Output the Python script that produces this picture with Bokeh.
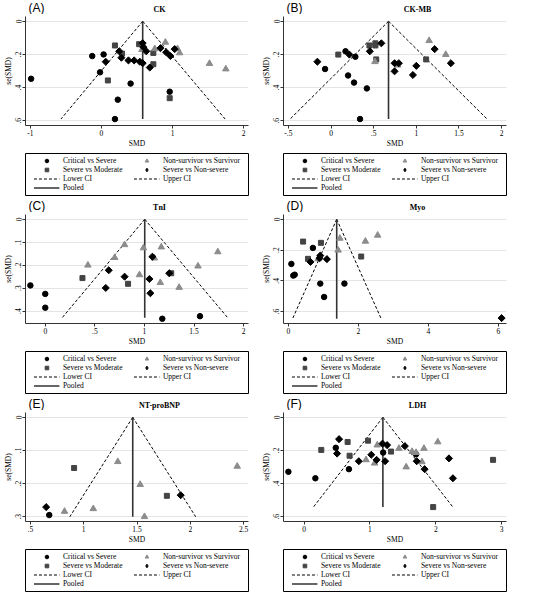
import math
from bokeh.plotting import figure
from bokeh.models import (Range1d, FixedTicker, CustomJSTickFormatter, Label,
                          Legend, LegendItem)
from bokeh.layouts import column, row
from bokeh.embed import file_html
from bokeh.resources import INLINE

# ---------------- data ----------------
# Panel A: CK
CK_crit_smd = [-0.99, -0.13, -0.02, 0.41, 0.23, 0.19, 0.96, 0.03]
CK_crit_se = [0.347, 0.210, 0.308, 0.376, 0.473, 0.590, 0.425, 0.200]
CK_mod_smd = [0.09, 0.19, 0.29, 0.53, 0.73, 0.73, 0.96]
CK_mod_se = [0.357, 0.146, 0.195, 0.138, 0.191, 0.259, 0.464]
CK_surv_smd = [0.57, 0.75, 0.90, 1.07, 1.10, 1.52, 1.75]
CK_surv_se = [0.171, 0.166, 0.127, 0.166, 0.191, 0.255, 0.288]
CK_nonsev_smd = [0.06, 0.25, 0.28, 0.38, 0.46, 0.54, 0.58, 0.58, 0.59, 0.63,
                 0.68, 0.83, 0.91, 0.97, 1.03]
CK_nonsev_se = [0.244, 0.181, 0.220, 0.236, 0.236, 0.244, 0.253, 0.132, 0.156,
                0.181, 0.279, 0.162, 0.187, 0.210, 0.168]
CK_pooled, CK_ci_se, CK_lower, CK_upper = 0.58, 0.59, -0.57, 1.74
CK_xticks = [-1, 0, 1, 2]
CK_yticks = [0, 0.2, 0.4, 0.6]

# Panel B: CK-MB
CKMB_crit_smd = [-0.07, 0.17, 0.285, 0.20, 0.27, 0.42, 0.34]
CKMB_crit_se = [0.288, 0.181, 0.214, 0.327, 0.370, 0.405, 0.590]
CKMB_mod_smd = [0.085, 0.45, 0.52, 0.52, 0.53, 1.115]
CKMB_mod_se = [0.201, 0.146, 0.146, 0.133, 0.230, 0.230]
CKMB_surv_smd = [0.515, 0.78, 1.15, 1.345]
CKMB_surv_se = [0.244, 0.265, 0.117, 0.201]
CKMB_nonsev_smd = [-0.16, 0.215, 0.455, 0.59, 0.745, 0.795, 0.745, 1.0, 0.96,
                   1.215, 1.405]
CKMB_nonsev_se = [0.244, 0.201, 0.181, 0.133, 0.253, 0.253, 0.302, 0.269,
                  0.324, 0.168, 0.253]
CKMB_pooled, CKMB_ci_se, CKMB_lower, CKMB_upper = 0.674, 0.59, -0.48, 1.83
CKMB_xticks = [-0.5, 0, 0.5, 1, 1.5, 2]
CKMB_yticks = [0, 0.2, 0.4, 0.6]

# Panel C: TnI
TNI_crit_smd = [-0.15, 0.0, 0.0, 1.18, 1.56]
TNI_crit_se = [0.288, 0.325, 0.385, 0.433, 0.422]
TNI_mod_smd = [0.375, 0.835, 1.27]
TNI_mod_se = [0.256, 0.281, 0.235]
TNI_surv_smd = [0.43, 0.70, 0.80, 0.99, 0.95, 1.10, 1.17, 1.16, 1.35, 1.54, 1.74]
TNI_surv_se = [0.200, 0.167, 0.111, 0.125, 0.242, 0.169, 0.121, 0.276, 0.297,
               0.204, 0.142]
TNI_nonsev_smd = [0.64, 0.61, 0.80, 1.08, 1.05, 1.06, 1.25]
TNI_nonsev_se = [0.222, 0.299, 0.250, 0.163, 0.260, 0.322, 0.235]
TNI_pooled, TNI_ci_se, TNI_lower, TNI_upper = 1.003, 0.429, 0.17, 1.84
TNI_xticks = [0, 0.5, 1, 1.5, 2]
TNI_yticks = [0, 0.1, 0.2, 0.3, 0.4]

# Panel D: Myo
MYO_crit_smd = [0.085, 0.14, 0.18, 0.70, 0.91, 1.02, 1.60]
MYO_crit_se = [0.290, 0.366, 0.360, 0.186, 0.418, 0.505, 0.418]
MYO_mod_smd = [0.42, 0.56, 0.93, 2.08]
MYO_mod_se = [0.145, 0.257, 0.153, 0.242]
MYO_surv_smd = [0.85, 1.47, 1.42, 2.20, 2.55]
MYO_surv_se = [0.257, 0.124, 0.201, 0.143, 0.104]
MYO_nonsev_smd = [0.63, 0.91, 0.89, 1.10, 6.09]
MYO_nonsev_se = [0.277, 0.236, 0.253, 0.259, 0.642]
MYO_pooled, MYO_ci_se, MYO_lower, MYO_upper = 1.38, 0.646, 0.12, 2.65
MYO_xticks = [0, 2, 4, 6]
MYO_yticks = [0, 0.2, 0.4, 0.6]

# Panel E: NT-proBNP
BNP_crit_smd = [0.677]
BNP_crit_se = [0.295]
BNP_mod_smd = [0.91, 1.78]
BNP_mod_se = [0.153, 0.237]
BNP_surv_smd = [0.82, 1.09, 1.32, 1.53, 1.57, 2.44]
BNP_surv_se = [0.284, 0.276, 0.134, 0.203, 0.300, 0.148]
BNP_nonsev_smd = [0.648, 1.91]
BNP_nonsev_se = [0.271, 0.235]
BNP_pooled, BNP_ci_se, BNP_lower, BNP_upper = 1.46, 0.30, 0.87, 2.05
BNP_xticks = [0.5, 1, 1.5, 2, 2.5]
BNP_yticks = [0, 0.1, 0.2, 0.3]

# Panel F: LDH
LDH_crit_smd = [-0.24, 0.17, 0.48, 0.68, 1.20, 1.70]
LDH_crit_se = [0.329, 0.368, 0.184, 0.313, 0.213, 0.223]
LDH_mod_smd = [0.26, 0.66, 0.69, 0.97, 1.32, 1.96, 2.87]
LDH_mod_se = [0.197, 0.149, 0.232, 0.141, 0.207, 0.542, 0.257]
LDH_surv_smd = [0.94, 1.07, 1.11, 1.44, 1.55, 1.64, 1.70, 1.82, 1.79, 2.03]
LDH_surv_se = [0.257, 0.277, 0.168, 0.188, 0.300, 0.207, 0.213, 0.188, 0.269,
               0.149]
LDH_nonsev_smd = [0.53, 0.50, 0.83, 1.02, 1.10, 1.19, 1.23, 1.26, 1.53, 1.71,
                  1.83, 2.20, 2.26]
LDH_nonsev_se = [0.132, 0.219, 0.265, 0.226, 0.257, 0.159, 0.265, 0.168, 0.174,
                 0.265, 0.313, 0.248, 0.368]
LDH_pooled, LDH_ci_se, LDH_lower, LDH_upper = 1.196, 0.542, 0.14, 2.26
LDH_xticks = [0, 1, 2, 3]
LDH_yticks = [0, 0.2, 0.4, 0.6]

LEGEND_LABELS = ["Critical vs Severe", "Non-survivor vs Survivor",
                 "Severe vs Moderate", "Severe vs Non-severe",
                 "Lower CI", "Upper CI", "Pooled"]

# ---------------- styling / layout ----------------
SERIF = "Liberation Serif"
SANS = "Liberation Sans"
PW = 258
BL, BR = 22, 8
FW = PW - BL - BR
HEAD_H = 14
MAIN_T, MAIN_B = 2, 20
FH = 114
MAIN_H = MAIN_T + FH + MAIN_B
LEG_FIG_H = 198 - HEAD_H - MAIN_H
LEG_L, LEG_R, LEG_T, LEG_B = 24, 10, 3, 3

FMT = CustomJSTickFormatter(code="""
const v = Math.round(tick * 1000) / 1000;
let s = String(v);
if (s.startsWith("0.")) { s = s.slice(1); }
else if (s.startsWith("-0.")) { s = "-" + s.slice(2); }
return s;
""")

STYLE = {
    "circle": dict(marker="circle", size=5.5, color="black"),
    "square": dict(marker="square", size=5, color="#444444"),
    "triangle": dict(marker="triangle", size=6.5, color="#8c8c8c"),
    "diamond": dict(marker="square", angle=math.pi / 4, size=5, color="black"),
}
LEGEND_STYLE = dict(STYLE, diamond=dict(marker="diamond", size=7, color="black"))


def blank_fig(height, left=0, right=0, top=0, bottom=0):
    f = figure(width=PW, height=height, x_range=Range1d(0, 1),
               y_range=Range1d(0, 1), x_axis_type=None, y_axis_type=None,
               output_backend="svg", toolbar_location=None,
               min_border=0, min_border_left=left, min_border_right=right,
               min_border_top=top, min_border_bottom=bottom)
    f.title = None
    f.outline_line_color = None
    f.background_fill_color = "white"
    f.border_fill_color = "white"
    return f


def draw_series(p, styles, crit, mod, surv, nonsev, pooled, ci_se, lower, upper):
    r_lo = p.line([pooled, lower], [0, ci_se], line_color="black",
                  line_width=1, line_dash="3 2")
    r_up = p.line([pooled, upper], [0, ci_se], line_color="black",
                  line_width=1, line_dash="3 2")
    r_po = p.line([pooled, pooled], [0, ci_se], line_color="#333333",
                  line_width=1.6)
    r_c = p.scatter(crit[0], crit[1], **styles["circle"])
    r_s = p.scatter(mod[0], mod[1], **styles["square"])
    r_t = p.scatter(surv[0], surv[1], **styles["triangle"])
    r_d = p.scatter(nonsev[0], nonsev[1], **styles["diamond"])
    return [r_c, r_t, r_s, r_d, r_lo, r_up, r_po]


def make_panel(tag, title, crit, mod, surv, nonsev, pooled, ci_se, lower,
               upper, xticks, yticks):
    # header with panel tag and title
    head = blank_fig(HEAD_H)
    head.add_layout(Label(x=3, y=HEAD_H - 7.5, x_units="screen",
                          y_units="screen", text=tag, text_font=SANS,
                          text_font_size="12px", text_align="left",
                          text_baseline="middle", text_color="black"))
    head.add_layout(Label(x=BL + FW / 2 - 2, y=HEAD_H - 9, x_units="screen",
                          y_units="screen", text=title, text_font=SERIF,
                          text_font_size="8px", text_font_style="bold",
                          text_align="center", text_baseline="middle",
                          text_color="black"))

    # main funnel plot
    xs = crit[0] + mod[0] + surv[0] + nonsev[0] + [lower, upper]
    ys = crit[1] + mod[1] + surv[1] + nonsev[1] + [ci_se]
    xlo, xhi = min(xticks[0], min(xs)), max(xticks[-1], max(xs))
    ylo, yhi = min(yticks[0], min(ys)), max(yticks[-1], max(ys))
    xpad = (xhi - xlo) * 5.0 / (FW - 10)
    ypad = (yhi - ylo) * 5.0 / (FH - 10)
    p = figure(width=PW, height=MAIN_H,
               x_range=Range1d(xlo - xpad, xhi + xpad),
               y_range=Range1d(yhi + ypad, ylo - ypad),
               output_backend="svg", toolbar_location=None,
               min_border_left=BL, min_border_right=BR,
               min_border_top=MAIN_T, min_border_bottom=MAIN_B)
    p.title = None
    p.outline_line_color = None
    p.background_fill_color = "white"
    p.border_fill_color = "white"

    xt = FixedTicker(ticks=xticks)
    yt = FixedTicker(ticks=yticks)
    p.xaxis.ticker = xt
    p.yaxis.ticker = yt
    p.ygrid.ticker = yt
    p.xgrid.visible = False
    p.ygrid.grid_line_color = "#e4e4e4"
    p.ygrid.grid_line_width = 1
    for ax in (p.xaxis[0], p.yaxis[0]):
        ax.formatter = FMT
        ax.axis_line_color = "#333333"
        ax.major_tick_line_color = "#333333"
        ax.minor_tick_line_color = None
        ax.major_tick_out = 3
        ax.major_tick_in = 0
        ax.major_label_text_font = SERIF
        ax.major_label_text_font_size = "7.5px"
        ax.major_label_text_color = "black"
        ax.axis_label_text_font = SERIF
        ax.axis_label_text_font_size = "7.5px"
        ax.axis_label_text_font_style = "normal"
        ax.axis_label_text_color = "black"
        ax.major_label_standoff = 1
        ax.axis_label_standoff = 0
    p.xaxis.axis_label = "SMD"
    p.yaxis.axis_label = "se(SMD)"
    p.yaxis.major_label_orientation = "vertical"
    draw_series(p, STYLE, crit, mod, surv, nonsev, pooled, ci_se, lower, upper)

    # legend strip: the frame outline forms the legend box; the same series
    # are drawn out of view and used as legend proxies
    lf = blank_fig(LEG_FIG_H, LEG_L, LEG_R, LEG_T, LEG_B)
    lf.outline_line_color = "black"
    lf.outline_line_width = 1
    lf.x_range = Range1d(1000, 1001)
    lf.y_range = Range1d(1000, 1001)
    rends = draw_series(lf, LEGEND_STYLE, crit, mod, surv, nonsev, pooled,
                        ci_se, lower, upper)
    items = [LegendItem(label=l, renderers=[r]) for l, r in zip(LEGEND_LABELS, rends)]
    leg = Legend(items=items, location="center",
                 orientation="horizontal", ncols=2,
                 label_text_font=SERIF, label_text_font_size="7.5px",
                 label_text_color="black",
                 glyph_width=26, glyph_height=9, label_height=9,
                 label_width=70, label_standoff=4, spacing=0, padding=1,
                 margin=0, border_line_color=None,
                 background_fill_alpha=0)
    lf.add_layout(leg, "center")
    return column(head, p, lf, spacing=0)


pA = make_panel("(A)", "CK", (CK_crit_smd, CK_crit_se), (CK_mod_smd, CK_mod_se),
                (CK_surv_smd, CK_surv_se), (CK_nonsev_smd, CK_nonsev_se),
                CK_pooled, CK_ci_se, CK_lower, CK_upper, CK_xticks, CK_yticks)
pB = make_panel("(B)", "CK-MB", (CKMB_crit_smd, CKMB_crit_se),
                (CKMB_mod_smd, CKMB_mod_se), (CKMB_surv_smd, CKMB_surv_se),
                (CKMB_nonsev_smd, CKMB_nonsev_se), CKMB_pooled, CKMB_ci_se,
                CKMB_lower, CKMB_upper, CKMB_xticks, CKMB_yticks)
pC = make_panel("(C)", "TnI", (TNI_crit_smd, TNI_crit_se),
                (TNI_mod_smd, TNI_mod_se), (TNI_surv_smd, TNI_surv_se),
                (TNI_nonsev_smd, TNI_nonsev_se), TNI_pooled, TNI_ci_se,
                TNI_lower, TNI_upper, TNI_xticks, TNI_yticks)
pD = make_panel("(D)", "Myo", (MYO_crit_smd, MYO_crit_se),
                (MYO_mod_smd, MYO_mod_se), (MYO_surv_smd, MYO_surv_se),
                (MYO_nonsev_smd, MYO_nonsev_se), MYO_pooled, MYO_ci_se,
                MYO_lower, MYO_upper, MYO_xticks, MYO_yticks)
pE = make_panel("(E)", "NT-proBNP", (BNP_crit_smd, BNP_crit_se),
                (BNP_mod_smd, BNP_mod_se), (BNP_surv_smd, BNP_surv_se),
                (BNP_nonsev_smd, BNP_nonsev_se), BNP_pooled, BNP_ci_se,
                BNP_lower, BNP_upper, BNP_xticks, BNP_yticks)
pF = make_panel("(F)", "LDH", (LDH_crit_smd, LDH_crit_se),
                (LDH_mod_smd, LDH_mod_se), (LDH_surv_smd, LDH_surv_se),
                (LDH_nonsev_smd, LDH_nonsev_se), LDH_pooled, LDH_ci_se,
                LDH_lower, LDH_upper, LDH_xticks, LDH_yticks)

layout = column(row(pA, pB, spacing=0), row(pC, pD, spacing=0),
                row(pE, pF, spacing=0), spacing=0)

open("out.html", "w").write(file_html(layout, INLINE))
